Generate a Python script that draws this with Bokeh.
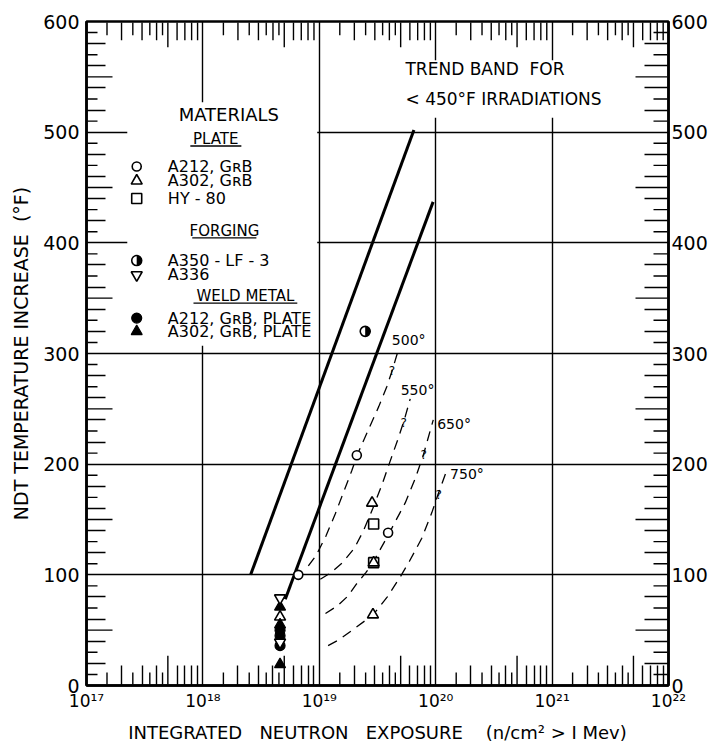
import numpy as np
from bokeh.plotting import figure
from bokeh.models import (Range1d, LinearAxis, FixedTicker, BoxAnnotation,
                          CustomJSTickFormatter, ColumnDataSource)
from bokeh.core.properties import value
from bokeh.embed import file_html
from bokeh.resources import INLINE

FONT = "DejaVu Sans"
INK = "black"

# ---- data -----------------------------------------------------------------
# Trend band for < 450 F irradiations (two solid bounding lines)
band_left_exposure = [2.57e18, 6.5e19]
band_left_ndt = [100, 502]
band_right_exposure = [5.1e18, 9.5e19]
band_right_ndt = [78, 437]

# Dashed curves for higher irradiation temperatures
curve_500_exposure = [8.05e18, 9.33e18, 1.14e19, 1.37e19, 1.62e19, 1.90e19,
                      2.11e19, 2.56e19, 3.24e19, 3.80e19, 4.21e19, 4.80e19]
curve_500_ndt = [108, 117, 135, 155, 175, 194, 208, 228, 252, 270, 284, 304]

curve_550_exposure = [1.02e19, 1.26e19, 1.58e19, 2.00e19, 2.40e19, 2.88e19,
                      3.47e19, 4.07e19, 4.79e19, 5.37e19, 6.04e19]
curve_550_ndt = [96, 102, 111, 124, 140, 160, 182, 203, 224, 240, 259]

curve_650_exposure = [1.13e19, 1.43e19, 1.77e19, 2.06e19, 2.51e19, 2.85e19,
                      3.34e19, 3.91e19, 4.49e19, 5.47e19, 6.67e19, 7.82e19, 9.53e19]
curve_650_ndt = [65, 72, 81, 91, 102, 110, 123, 136, 148, 165, 187, 208, 240]

curve_750_exposure = [1.19e19, 1.46e19, 2.04e19, 2.90e19, 3.84e19, 4.95e19,
                      5.93e19, 7.59e19, 9.25e19, 1.05e20, 1.25e20]
curve_750_ndt = [36, 41, 52, 64, 80, 98, 112, 133, 156, 173, 195]

curve_labels = ["500°", "550°", "650°", "750°"]

# Plate
a212_plate_exposure = [6.6e18, 2.1e19, 3.9e19]
a212_plate_ndt = [100, 208, 138]
a302_plate_exposure = [4.6e18, 2.84e19, 2.93e19, 2.89e19]
a302_plate_ndt = [62, 165, 111, 64]
hy80_exposure = [2.93e19, 2.93e19]
hy80_ndt = [146, 111]
# Forging
a350_exposure = [2.48e19]
a350_ndt = [320]
a336_exposure = [4.6e18, 4.6e18]
a336_ndt = [79, 39]
# Weld metal
weld_a212_exposure = [4.6e18, 4.6e18, 4.6e18]
weld_a212_ndt = [50, 45, 36]
weld_a302_exposure = [4.6e18, 4.6e18, 4.6e18]
weld_a302_ndt = [71, 55, 19]

# Axis ticks
x_decades = [1e17, 1e18, 1e19, 1e20, 1e21, 1e22]
y_hundreds = [0, 100, 200, 300, 400, 500, 600]

dec = [10.0 ** d for d in range(17, 22)]
x_half = [m * d for d in dec for m in (1.5, 2.5, 3.5, 4.5)]
x_mid = [m * d for d in dec for m in (2, 3, 4, 6, 7, 8, 9)]
x_five = [5 * d for d in dec]
y_odd = [v for v in range(10, 600, 10) if v % 20 == 10 and v % 50 != 0]
y_even = [v for v in range(10, 600, 10) if v % 20 == 0 and v % 100 != 0]
y_fifty = list(range(50, 600, 100))

# ---- figure ---------------------------------------------------------------
X0, X1, Y0, Y1 = 1e17, 1e22, 0.0, 600.0
FRAME_W, FRAME_H = 582, 670
p = figure(width=713, height=745, x_axis_type="log",
           x_range=Range1d(X0, X1), y_range=Range1d(Y0, Y1),
           output_backend="svg", toolbar_location=None,
           min_border_left=86, min_border_right=45,
           min_border_top=21, min_border_bottom=54)
p.outline_line_color = INK
p.outline_line_width = 2.5
p.background_fill_color = "white"

sup = CustomJSTickFormatter(code="""
    const s = {"0":"⁰","1":"¹","2":"²","3":"³","4":"⁴","5":"⁵","6":"⁶","7":"⁷","8":"⁸","9":"⁹"};
    const e = Math.round(Math.log10(tick));
    return "10" + String(e).split("").map(c => s[c]).join("");
""")


def style_axis(ax, minor_in):
    ax.major_tick_in = 0
    ax.major_tick_out = 0
    ax.minor_tick_in = minor_in
    ax.minor_tick_out = 0
    ax.minor_tick_line_color = INK
    ax.minor_tick_line_width = 1.4
    ax.axis_line_width = 2.5
    ax.axis_line_color = INK
    ax.major_label_text_font = FONT
    ax.major_label_text_color = INK
    ax.axis_label_text_font = FONT
    ax.axis_label_text_color = INK
    ax.axis_label_text_font_style = "normal"


xa = p.xaxis[0]
style_axis(xa, 20)
xa.ticker = FixedTicker(ticks=x_decades, minor_ticks=x_mid)
xa.formatter = sup
xa.major_label_text_font_size = "17px"
xa.major_label_standoff = 5
xa.axis_label = ("INTEGRATED\u00a0\u00a0 NEUTRON\u00a0\u00a0 EXPOSURE\u00a0\u00a0\u00a0 "
                 "(n/cm² > I Mev)")
xa.axis_label_text_font_size = "18px"
xa.axis_label_standoff = 8

ya = p.yaxis[0]
style_axis(ya, 19)
ya.ticker = FixedTicker(ticks=y_hundreds, minor_ticks=y_even)
ya.major_label_text_font_size = "19px"
ya.major_label_standoff = 7
ya.axis_label = "NDT TEMPERATURE INCREASE\u00a0 (°F)"
ya.axis_label_text_font_size = "19px"
ya.axis_label_standoff = 8

ra = LinearAxis(ticker=FixedTicker(ticks=y_hundreds, minor_ticks=y_even))
style_axis(ra, 24)
ra.major_label_text_font_size = "19px"
ra.major_label_standoff = 3
p.add_layout(ra, "right")

for g in (p.xgrid[0], p.ygrid[0]):
    g.grid_line_color = INK
    g.grid_line_width = 1.4
    g.grid_line_alpha = 1.0
p.xgrid[0].ticker = FixedTicker(ticks=x_decades)
p.ygrid[0].ticker = FixedTicker(ticks=y_hundreds)

# white panels that interrupt the grid behind the legend and the band note
p.add_layout(BoxAnnotation(left=2.24e17, right=9.6e18, bottom=307, top=527,
                           fill_color="white", fill_alpha=1.0, line_color=None,
                           level="underlay"))
p.add_layout(BoxAnnotation(left=5.0e19, right=3.8e21, bottom=513, top=565,
                           fill_color="white", fill_alpha=1.0, line_color=None,
                           level="underlay"))

# ---- inward tick marks of the other lengths, one broken polyline ----------
# fixed ranges, so a tick length in pixels is a constant data span
px_per_decade = FRAME_W / np.log10(X1 / X0)
px_per_unit = FRAME_H / (Y1 - Y0)
NAN = float("nan")

tick_path_x, tick_path_y = [], []
for xs, lb, lt in ((x_half, 13, 14), (x_five, 30, 26), (x_mid, 0, 19)):
    for x in xs:
        if lb:
            tick_path_x += [x, x, NAN]
            tick_path_y += [Y0 + 1.0 / px_per_unit, Y0 + lb / px_per_unit, NAN]
        tick_path_x += [x, x, NAN]
        tick_path_y += [Y1 - 1.0 / px_per_unit, Y1 - lt / px_per_unit, NAN]
for ys, ll, lr in ((y_odd, 11, 15), (y_fifty, 26, 33)):
    for y in ys:
        tick_path_x += [X0 * 10 ** (1.0 / px_per_decade), X0 * 10 ** (ll / px_per_decade), NAN,
                        X1 / 10 ** (1.0 / px_per_decade), X1 / 10 ** (lr / px_per_decade), NAN]
        tick_path_y += [y, y, NAN, y, y, NAN]
p.line([float(v) for v in tick_path_x], [float(v) for v in tick_path_y],
       line_color=INK, line_width=1.4)

# ---- trend band and temperature curves -------------------------------------
p.line(band_left_exposure, band_left_ndt, line_color=INK, line_width=3)
p.line(band_right_exposure, band_right_ndt, line_color=INK, line_width=3)

curves = [(curve_500_exposure, curve_500_ndt), (curve_550_exposure, curve_550_ndt),
          (curve_650_exposure, curve_650_ndt), (curve_750_exposure, curve_750_ndt)]
for cx, cy in curves:
    p.line(cx, cy, line_color=INK, line_width=1.3, line_dash="10 7")

txt = dict(text_font=value(FONT), text_color=INK, text_baseline="middle")

# temperature tags at the top of each dashed curve
tag_x = [4.2e19, 5.0e19, 1.03e20, 1.33e20]
tag_y = [312, 267, 236, 191]
p.text(x=tag_x, y=tag_y, text=curve_labels, text_font_size="14px",
       text_align="left", **txt)

# question marks where each curve is uncertain
q_x = [4.21e19, 5.30e19, 7.87e19, 1.06e20]
q_y = [284, 237, 208, 172]
p.text(x=q_x, y=q_y, text=["?"] * 4, text_font_size="12px", text_align="center", **txt)

# ---- data points ----------------------------------------------------------
ms = 10
open_style = dict(fill_color="white", line_color=INK, line_width=1.6)
filled_style = dict(fill_color=INK, line_color=INK, line_width=1.2)

p.scatter(hy80_exposure, hy80_ndt, marker="square", size=ms, **open_style)
p.scatter(a302_plate_exposure, a302_plate_ndt, marker="triangle", size=ms + 1, **open_style)
p.scatter(a212_plate_exposure, a212_plate_ndt, marker="circle", size=ms - 1, **open_style)
p.scatter(weld_a302_exposure, weld_a302_ndt, marker="triangle", size=ms + 1, **filled_style)
p.scatter(weld_a212_exposure, weld_a212_ndt, marker="circle", size=ms, **filled_style)
p.scatter(a336_exposure, a336_ndt, marker="inverted_triangle", size=ms + 1, **open_style)
p.scatter(a350_exposure, a350_ndt, marker="circle", size=ms, **open_style)
p.wedge(a350_exposure, a350_ndt, radius=5, radius_units="screen",
        start_angle=-np.pi / 2, end_angle=np.pi / 2, fill_color=INK, line_color=None)

# ---- legend ---------------------------------------------------------------
leg_mark_x = 2.7e17
leg_text_x = 5.0e17

p.text(x=[1.67e18], y=[516], text=["MATERIALS"], text_font_size="18px",
       text_align="center", **txt)
heads = ColumnDataSource(dict(x=[1.29e18, 1.53e18, 2.32e18], y=[494, 411, 352],
                              text=["PLATE", "FORGING", "WELD METAL"]))
p.text(x="x", y="y", text="text", source=heads, text_font_size="15px",
       text_align="center", **txt)
p.segment(x0=[7.8e17, 8.1e17, 8.3e17], x1=[2.14e18, 2.88e18, 6.47e18],
          y0=[487.5, 404.5, 345.5], y1=[487.5, 404.5, 345.5],
          line_color=INK, line_width=1.3)

rows_y = [469, 456, 440, 384, 371, 332, 320]
rows_text = ["A212, GʀB", "A302, GʀB", "HY - 80", "A350 - LF - 3", "A336",
             "A212, GʀB, PLATE", "A302, GʀB, PLATE"]
p.text(x=[leg_text_x] * 7, y=rows_y, text=rows_text, text_font_size="16px",
       text_align="left", **txt)

p.scatter([leg_mark_x], [rows_y[0]], marker="circle", size=ms - 1, **open_style)
p.scatter([leg_mark_x], [rows_y[1]], marker="triangle", size=ms + 1, **open_style)
p.scatter([leg_mark_x], [rows_y[2]], marker="square", size=ms, **open_style)
p.scatter([leg_mark_x], [rows_y[3]], marker="circle", size=ms, **open_style)
p.wedge([leg_mark_x], [rows_y[3]], radius=5, radius_units="screen",
        start_angle=-np.pi / 2, end_angle=np.pi / 2, fill_color=INK, line_color=None)
p.scatter([leg_mark_x], [rows_y[4]], marker="inverted_triangle", size=ms + 1, **open_style)
p.scatter([leg_mark_x], [rows_y[5]], marker="circle", size=ms, **filled_style)
p.scatter([leg_mark_x], [rows_y[6]], marker="triangle", size=ms + 1, **filled_style)

# ---- band note ------------------------------------------------------------
p.text(x=[5.5e19, 5.5e19], y=[557, 530],
       text=["TREND BAND\u00a0 FOR", "< 450°F IRRADIATIONS"],
       text_font_size="17px", text_align="left", **txt)

open("out.html", "w").write(file_html(p, INLINE))
